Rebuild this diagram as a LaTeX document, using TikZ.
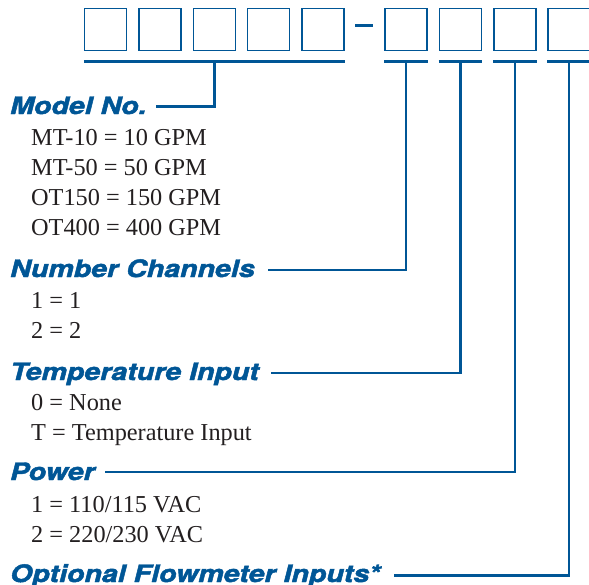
\documentclass[tikz,border=0pt]{standalone}
\usepackage{fontspec}
\setmainfont{Liberation Serif}
\newfontfamily\headfont[FakeStretch=1.19,FakeBold=2]{TeX Gyre Heros}
\usetikzlibrary{calc}
\definecolor{brandblue}{RGB}{0,86,150}
\definecolor{ink}{RGB}{35,31,32}
\begin{document}
\begin{tikzpicture}[x=1pt,y=-1pt,
  digitbox/.style={draw=brandblue,line width=1.5pt,minimum size=42pt,inner sep=0pt},
  underl/.style={draw=brandblue,line width=2.7pt},
  conn/.style={draw=brandblue,line width=2.5pt},
  headtext/.style={anchor=base west,inner sep=0pt,text=brandblue,font=\headfont\bfseries\itshape\fontsize{24}{28}\selectfont},
  itemtext/.style={anchor=base west,inner sep=0pt,text=ink,font=\fontsize{24.3}{30}\selectfont}]
\useasboundingbox (0,0) rectangle (589,584);
\clip (0,0) rectangle (589,584);
% code boxes
\foreach \i/\cx in {1/105.5,2/159.9,3/214.3,4/268.7,5/323.1,6/406,7/460.4,8/514.8,9/569.2}
  \node[digitbox] (b\i) at (\cx,29.5) {};
\node[inner sep=0pt,minimum width=18pt,minimum height=3pt,fill=brandblue] (dash) at (364.3,25) {};
% underlines
\draw[underl] ([yshift=-10.5pt]b1.south west) -- ([yshift=-10.5pt]b5.south east);
\foreach \i in {6,7,8,9}
  \draw[underl] ([yshift=-10.5pt]b\i.south west) -- ([yshift=-10.5pt]b\i.south east);
\coordinate (u1) at ($(b1.south)!0.5!(b5.south)+(0,10.5)$);
\foreach \i in {6,7,8,9}
  \coordinate (u\i) at ($(b\i.south)+(0,10.5)$);
% headings and items
\node[headtext] (hmodel) at (10,114) {Model No.};
\node[itemtext] (m1) at (31,145) {MT-10 = 10 GPM};
\node[itemtext] (m2) at (31,175) {MT-50 = 50 GPM};
\node[itemtext] (m3) at (31,205) {OT150 = 150 GPM};
\node[itemtext] (m4) at (31,235) {OT400 = 400 GPM};
\node[headtext] (hchan) at (10,277) {Number Channels};
\node[itemtext] (c1) at (31,308) {1 = 1};
\node[itemtext] (c2) at (31,338) {2 = 2};
\node[headtext] (htemp) at (10,380) {Temperature Input};
\node[itemtext] (t1) at (31,410) {0 = None};
\node[itemtext] (t2) at (31,440) {T = Temperature Input};
\node[headtext] (hpow) at (10,480) {Power};
\node[itemtext] (p1) at (31,512) {1 = 110/115 VAC};
\node[itemtext] (p2) at (31,542) {2 = 220/230 VAC};
\node[headtext] (hopt) at (10,582) {Optional Flowmeter Inputs*};
% connectors
\draw[conn] (u1) |- ($(hmodel.base east)+(9,-7.3)$);
\draw[conn] (u6) |- ($(hchan.base east)+(13,-7)$);
\draw[conn] (u7) |- ($(htemp.base east)+(12,-7)$);
\draw[conn] (u8) |- ($(hpow.base east)+(10,-8)$);
\draw[conn] (u9) |- ($(hopt.base east)+(13,-6.5)$);
\end{tikzpicture}
\end{document}
